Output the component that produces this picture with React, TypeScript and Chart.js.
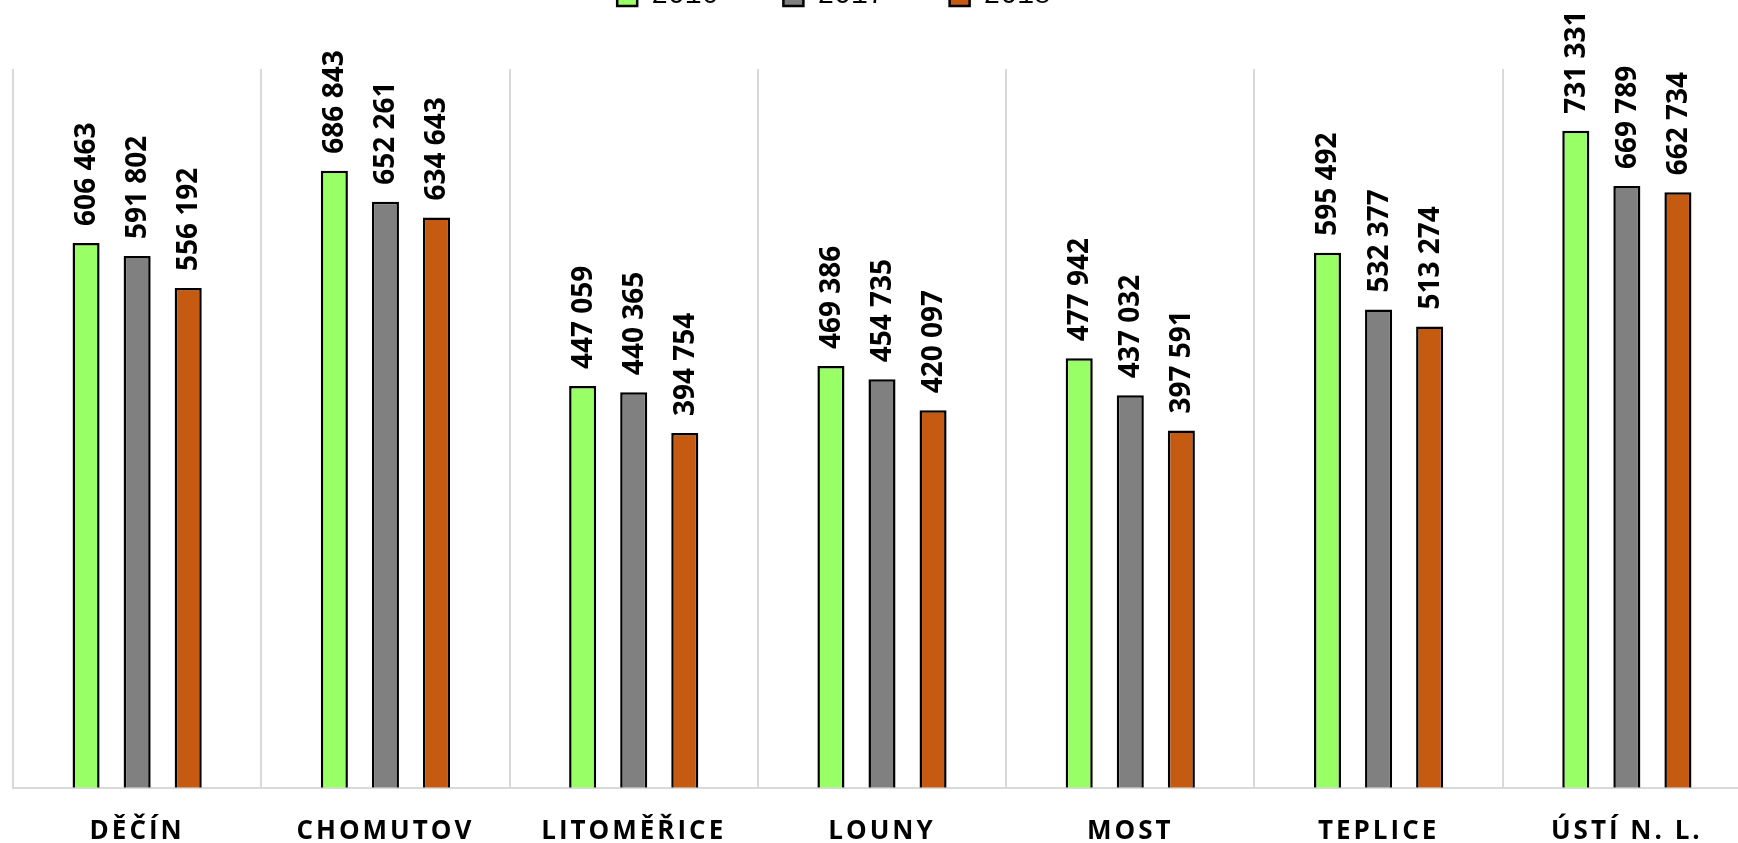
import React, { useEffect, useRef } from "react";
import { Chart, registerables } from "chart.js";

Chart.register(...registerables);

const categories = ["DĚČÍN", "CHOMUTOV", "LITOMĚŘICE", "LOUNY", "MOST", "TEPLICE", "ÚSTÍ N. L."];
const seriesLabels = ["2016", "2017", "2018"];
const values2016 = [606463, 686843, 447059, 469386, 477942, 595492, 731331];
const values2017 = [591802, 652261, 440365, 454735, 437032, 532377, 669789];
const values2018 = [556192, 634643, 394754, 420097, 397591, 513274, 662734];
const seriesColors = ["#99FF66", "#808080", "#C55A11"];
const yMin = 0;
const yMax = 800000;

const fmt = (v: number) => String(v).replace(/\B(?=(\d{3})+(?!\d))/g, " ");

const legendGap = {
  id: "legendGap",
  beforeInit(chart: any) {
    const legend = chart.legend;
    if (!legend) return;
    const origFit = legend.fit;
    legend.fit = function () {
      origFit.call(this);
      this.height += 49;
    };
  },
  afterLayout(chart: any) {
    const legend = chart.legend;
    if (legend) {
      legend.left -= 48;
      legend.right -= 48;
    }
    const xs = chart.scales.x;
    if (xs && !xs.__spaced) {
      const orig = xs.drawLabels;
      xs.drawLabels = function (area: any) {
        const ctx = this.ctx;
        ctx.save();
        (ctx as any).letterSpacing = "3px";
        orig.call(this, area);
        ctx.restore();
      };
      xs.__spaced = true;
    }
  },
};

const valueLabels = {
  id: "valueLabels",
  afterDatasetsDraw(chart: any) {
    const ctx = chart.ctx;
    chart.data.datasets.forEach((ds: any, di: number) => {
      const meta = chart.getDatasetMeta(di);
      meta.data.forEach((bar: any, i: number) => {
        const v = ds.data[i];
        ctx.save();
        ctx.translate(bar.x + 1, bar.y - 17);
        ctx.rotate(-Math.PI / 2);
        ctx.font = 'bold 28px "Open Sans"';
        ctx.fillStyle = "#000";
        ctx.textAlign = "left";
        ctx.textBaseline = "middle";
        ctx.fillText(fmt(v), 0, 0);
        ctx.restore();
      });
    });
  },
};

export default function App() {
  const ref = useRef<HTMLCanvasElement>(null);
  useEffect(() => {
    const series = [values2016, values2017, values2018];
    const chart = new Chart(ref.current as HTMLCanvasElement, {
      type: "bar",
      data: {
        labels: categories,
        datasets: series.map((d, i) => ({
          label: seriesLabels[i],
          data: d,
          backgroundColor: seriesColors[i],
          borderColor: "#000",
          borderWidth: 2.5,
          categoryPercentage: 0.617,
          barPercentage: 0.53,
        })),
      },
      options: {
        responsive: false,
        animation: false,
        layout: { padding: { left: 13, right: 0, top: 0, bottom: 0 } },
        plugins: {
          legend: {
            position: "top",
            align: "center",
            labels: {
              boxWidth: 20,
              boxHeight: 20,
              padding: 65,
              color: "#000",
              font: { family: '"Liberation Mono", monospace', size: 28 },
            },
          },
          tooltip: { enabled: false },
        },
        scales: {
          x: {
            grid: { color: "#d9d9d9", lineWidth: 2, drawTicks: false, offset: true },
            border: { color: "#d9d9d9", width: 2 },
            ticks: {
              color: "#000",
              padding: 28,
              maxRotation: 0,
              autoSkip: false,
              font: { family: '"Open Sans"', size: 26, weight: "bold" },
            },
          },
          y: { display: false, min: yMin, max: yMax },
        },
      },
      plugins: [legendGap, valueLabels],
    });
    return () => chart.destroy();
  }, []);
  return (
    <div
      style={{
        position: "fixed",
        left: 0,
        top: 0,
        width: 1738,
        height: 843,
        overflow: "hidden",
        background: "#fff",
      }}
    >
      <canvas
        ref={ref}
        width={1751}
        height={958}
        style={{ position: "absolute", left: 0, top: -83, width: 1751, height: 958 }}
      />
    </div>
  );
}
